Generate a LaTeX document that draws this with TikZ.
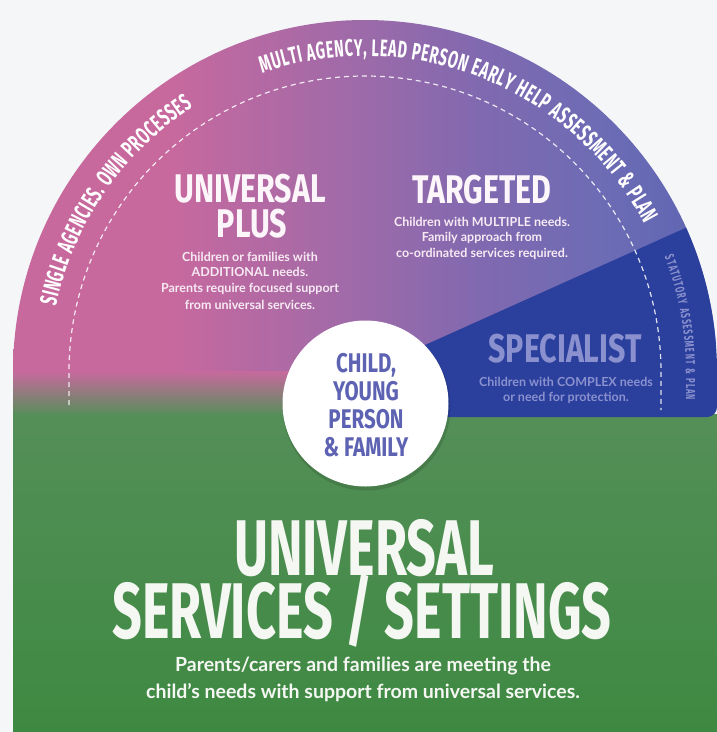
\documentclass[tikz,border=0pt]{standalone}
\usepackage{fontspec}
\usetikzlibrary{decorations.text,calc}
\newfontfamily\condA[FakeStretch=0.66]{Fira Sans}
\newfontfamily\condB[FakeStretch=0.76]{Fira Sans}
\newfontfamily\condC[FakeStretch=0.60]{Fira Sans}
\newfontfamily\condD[FakeStretch=0.60]{Fira Sans}
\newfontfamily\bodyf{Lato}
\definecolor{bgc}{HTML}{F5F6F8}
\definecolor{pinkc}{HTML}{C8699E}
\definecolor{midc}{HTML}{9C6AA9}
\definecolor{tgc}{HTML}{8169B0}
\definecolor{bluec}{HTML}{6C6CB5}
\definecolor{rightc}{HTML}{5E64B1}
\definecolor{specc}{HTML}{2B3F9D}
\definecolor{spectxt}{HTML}{8A91CE}
\definecolor{circtxt}{HTML}{5D62B2}
\definecolor{greentop}{HTML}{548F58}
\definecolor{greenbot}{HTML}{3E8942}
\definecolor{hdc}{HTML}{FCF5FA}
\definecolor{bdc}{HTML}{F7EAF3}
\definecolor{gtxt}{HTML}{F4F7F2}
\pgfdeclarehorizontalshading{arcshade}{100bp}{color(0bp)=(pinkc); color(36bp)=(pinkc); color(50bp)=(midc); color(58bp)=(tgc); color(67bp)=(bluec); color(75bp)=(rightc); color(100bp)=(rightc)}
\begin{document}
\begin{tikzpicture}[x=1pt,y=1pt,
  lbl/.style={inner sep=0pt, anchor=base},
  hd/.style={lbl, text=hdc, font=\condB\bfseries\fontsize{40}{40}\selectfont},
  bd/.style={lbl, text=bdc, font=\bodyf\bfseries\fontsize{12.5}{12.5}\selectfont},
  sphd/.style={lbl, text=spectxt, font=\condB\bfseries\fontsize{40}{40}\selectfont},
  spbd/.style={lbl, text=spectxt, font=\bodyf\bfseries\fontsize{12.5}{12.5}\selectfont},
  ctxt/.style={lbl, text=circtxt, font=\condB\bfseries\fontsize{27}{27}\selectfont},
  bigt/.style={lbl, text=gtxt, font=\condA\bfseries\fontsize{79}{79}\selectfont},
  gbd/.style={lbl, text=gtxt, font=\bodyf\bfseries\fontsize{19.5}{19.5}\selectfont},
  dashline/.style={white, dash pattern=on 5pt off 4pt, line width=1.2pt, opacity=0.85}
]
\useasboundingbox (0,0) rectangle (717,-732);
\fill[bgc] (0,0) rectangle (717,-732);
\coordinate (C) at (365,-372);
% upper half disc
\shade[shading=arcshade] (13,-372) arc[start angle=180,end angle=0,radius=352] -- cycle;
% fade from pink to green on the left
\shade[top color=pinkc, bottom color=greentop] (13,-371) rectangle (300,-416);
% green field
\shade[top color=greentop, bottom color=greenbot] (13,-414) rectangle (717,-732);
% specialist wedge
\fill[specc] (C) -- ($(C)+(24.2:352)$) arc[start angle=24.2,end angle=0,radius=352]
  -- (717,-407) arc[start angle=0,end angle=-90,radius=10] -- (365,-417) -- cycle;
% dashed inner ring
\draw[dashline] (69,-405) -- (69,-372) arc[start angle=180,end angle=0,radius=296] -- (661,-410);
% curved texts
\path[decorate, decoration={text along path, text align={fit to path},
  text={|\condC\bfseries\fontsize{24}{24}\selectfont\color{white}|SINGLE AGENCIES. OWN PROCESSES}}]
  (C) ++(168:316) arc[start angle=168,end angle=123,radius=316];
\path[decorate, decoration={text along path, text align={fit to path},
  text={|\condC\bfseries\fontsize{24}{24}\selectfont\color{white}|MULTI AGENCY, LEAD PERSON EARLY HELP ASSESSMENT {\&} PLAN}}]
  (C) ++(109:316) arc[start angle=109,end angle=28,radius=316];
\path[decorate, decoration={text along path, text align={fit to path},
  text={|\condD\bfseries\fontsize{13}{13}\selectfont\color{spectxt}|STATUTORY ASSESSMENT {\&} PLAN}}]
  (C) ++(21:321) arc[start angle=21,end angle=0,radius=321] -- ++(0,-28);
% universal plus
\node[hd] (upa) at (250,-202) {UNIVERSAL};
\node[hd] (upb) at (252,-237) {PLUS};
\node[bd] (up1) at (250,-261) {Children or families with};
\node[bd] (up2) at (250,-276) {ADDITIONAL needs.};
\node[bd] (up3) at (250,-292) {Parents require focused support};
\node[bd] (up4) at (250,-309) {from universal services.};
% targeted
\node[hd] (tga) at (482,-203) {TARGETED};
\node[bd] (tg1) at (482,-226) {Children with MULTIPLE needs.};
\node[bd] (tg2) at (482,-241) {Family approach from};
\node[bd] (tg3) at (482,-257) {co-ordinated services required.};
% specialist
\node[sphd] (spa) at (565,-362) {SPECIALIST};
\node[spbd] (sp1) at (566,-386) {Children with COMPLEX needs};
\node[spbd] (sp2) at (566,-401) {or need for protection.};
% child circle
\fill[black, opacity=0.12] (366.5,-406.5) circle (84);
\node[circle, fill=white, minimum size=166pt, inner sep=0pt] (child) at (365.5,-403.5) {};
\node[ctxt] (c1) at (366,-372) {CHILD,};
\node[ctxt] (c2) at (366,-400) {YOUNG};
\node[ctxt] (c3) at (366,-428) {PERSON};
\node[ctxt] (c4) at (366,-456) {\& FAMILY};
% universal services
\node[bigt] (ua) at (364,-575) {UNIVERSAL};
\node[bigt] (ub) at (362,-638) {SERVICES / SETTINGS};
\node[gbd] (u1) at (363,-671) {Parents/carers and families are meeting the};
\node[gbd] (u2) at (363,-698) {child’s needs with support from universal services.};
\end{tikzpicture}
\end{document}
